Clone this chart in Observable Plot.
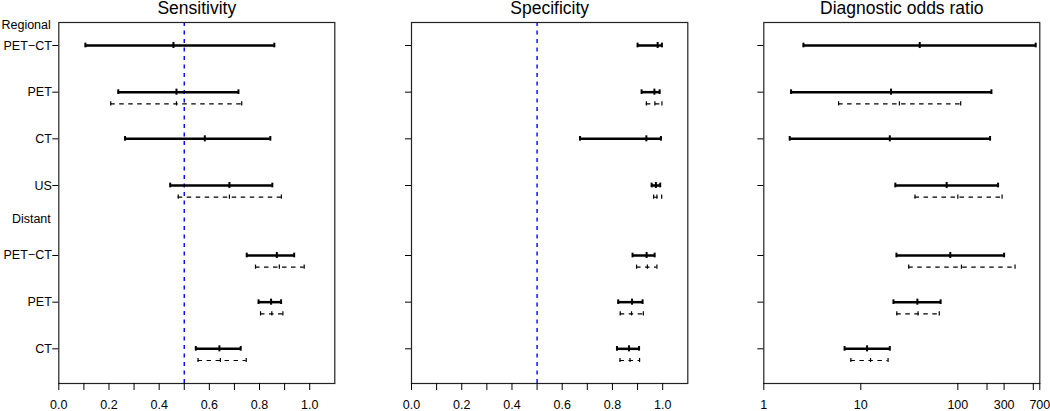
<!DOCTYPE html>
<html>
<head>
<meta charset="utf-8">
<script src="https://cdn.jsdelivr.net/npm/d3@7"></script>
<script src="https://cdn.jsdelivr.net/npm/@observablehq/plot@0.6"></script>
<style>
  html, body { margin: 0; padding: 0; background: #fff; }
  #wrap { display: flex; width: 1050px; height: 411px; }
  #wrap svg { overflow: visible; display: block; }
</style>
</head>
<body>
<div id="wrap"></div>
<script>
// ---------------- data ----------------
const groupNames = ["Regional", "Distant"];
const modality = ["PET−CT", "PET", "CT", "US", "PET−CT", "PET", "CT"];
const group = ["Regional", "Regional", "Regional", "Regional", "Distant", "Distant", "Distant"];

// Sensitivity (solid = main estimate, dashed = second estimate)
const sensEst = [0.457, 0.469, 0.582, 0.680, 0.869, 0.846, 0.640];
const sensLo  = [0.106, 0.237, 0.264, 0.444, 0.749, 0.796, 0.546];
const sensHi  = [0.859, 0.716, 0.843, 0.851, 0.938, 0.886, 0.725];
const sens2Est = [null, 0.469, null, 0.680, 0.879, 0.849, 0.644];
const sens2Lo  = [null, 0.207, null, 0.476, 0.784, 0.804, 0.555];
const sens2Hi  = [null, 0.729, null, 0.887, 0.978, 0.893, 0.747];

// Specificity
const specEst = [0.980, 0.967, 0.935, 0.973, 0.936, 0.878, 0.866];
const specLo  = [0.900, 0.916, 0.671, 0.956, 0.880, 0.823, 0.818];
const specHi  = [0.997, 0.988, 0.993, 0.990, 0.968, 0.920, 0.906];
const spec2Est = [null, 0.969, null, 0.977, 0.939, 0.876, 0.870];
const spec2Lo  = [null, 0.935, null, 0.964, 0.896, 0.831, 0.830];
const spec2Hi  = [null, 0.997, null, 0.996, 0.977, 0.923, 0.908];

// Diagnostic odds ratio
const dorEst = [40.5, 20.5, 19.9, 76.7, 83.6, 38.3, 11.6];
const dorLo  = [2.56, 1.91, 1.85, 22.7, 23.3, 21.7, 6.8];
const dorHi  = [635, 222, 215, 260, 300, 66.5, 19.9];
const dor2Est = [null, 25.0, null, 100, 109, 38.9, 12.6];
const dor2Lo  = [null, 5.9, null, 36.2, 31.2, 23.5, 7.9];
const dor2Hi  = [null, 107, null, 286, 389, 64.4, 19.1];

const propTicks = [0, 0.1, 0.2, 0.3, 0.4, 0.5, 0.6, 0.7, 0.8, 0.9, 1.0];
const propLabels = [0, 0.2, 0.4, 0.6, 0.8, 1.0];
const dorTicks = [1, 10, 100, 200, 300, 600, 700];
const dorLabels = [1, 10, 100, 300, 700];

// ---------------- layout ----------------
const FONT = "'Liberation Sans', Arial, Helvetica, sans-serif";
const TICK = 7, PAD = 9.5, FS = 12.5;
// row position: one row per item, distant group pushed down by half a row
const rowY = modality.map((m, i) => i + groupNames.indexOf(group[i]) * 0.5);
const headerY = {Regional: rowY[0] - 0.45, Distant: rowY[4] - 0.79};
const yDomain = [-0.493, 7.243];

function panel({title, est, lo, hi, est2, lo2, hi2, x, ticks, labels, fmt, ref, showLabels, ml, mr}) {
  const rows = modality.map((m, i) => ({y: rowY[i], est: est[i], lo: lo[i], hi: hi[i]}));
  const rows2 = modality.map((m, i) => ({y: rowY[i] + 0.25, est: est2[i], lo: lo2[i], hi: hi2[i]}))
    .filter(d => d.est != null);
  const caps = rows.flatMap(r => [r.lo, r.est, r.hi].map((v, k) => ({x: v, y1: r.y - (k === 1 ? 0.065 : 0.05), y2: r.y + (k === 1 ? 0.065 : 0.05)})));
  const caps2 = rows2.flatMap(r => [r.lo, r.est, r.hi].map(v => ({x: v, y1: r.y - 0.045, y2: r.y + 0.045})));
  const marks = [];
  if (ref != null) marks.push(Plot.ruleX([ref], {stroke: "#0000ff", strokeWidth: 1.4, strokeDasharray: "4,4.5"}));
  marks.push(
    Plot.ruleY(rows, {y: "y", x1: "lo", x2: "hi", stroke: "#000", strokeWidth: 2.5}),
    Plot.ruleX(caps, {x: "x", y1: "y1", y2: "y2", stroke: "#000", strokeWidth: 2}),
    Plot.ruleY(rows2, {y: "y", x1: "lo", x2: "hi", stroke: "#000", strokeWidth: 1.1, strokeDasharray: "4.5,4.5"}),
    Plot.ruleX(caps2, {x: "x", y1: "y1", y2: "y2", stroke: "#000", strokeWidth: 1.2}),
    Plot.frame({stroke: "#222", strokeWidth: 1.2}),
    Plot.axisY({ticks: rowY, tickSize: 6, tickPadding: 1, fontSize: FS, stroke: "#000",
      tickFormat: showLabels ? (d => modality[rowY.indexOf(d)]) : (() => "")}),
    Plot.text([title], {text: d => d, frameAnchor: "top", dy: -14, lineAnchor: "middle",
      fontSize: 17.5, fill: "#000"})
  );
  if (fmt) {
    marks.push(Plot.axisX({ticks, tickSize: TICK, tickPadding: PAD, tickFormat: fmt, stroke: "#000", fontSize: FS}));
  } else {
    // log axis: tick marks from the axis, labels drawn as text on the same scale
    marks.push(
      Plot.axisX({ticks, tickSize: TICK, tickPadding: PAD, tickFormat: () => "", stroke: "#000", fontSize: FS}),
      Plot.text(labels, {x: d => d, text: d => String(d), frameAnchor: "bottom", lineAnchor: "top",
        dy: TICK + PAD, fontSize: FS, fill: "#000"})
    );
  }
  if (showLabels) {
    marks.push(Plot.text(groupNames, {y: d => headerY[d], text: d => d, frameAnchor: "left",
      textAnchor: "end", dx: -8, fontSize: FS, fill: "#000"}));
  }
  return Plot.plot({
    width: 350, height: 411,
    marginTop: 22, marginBottom: 28, marginLeft: ml, marginRight: mr,
    style: {fontFamily: FONT, fontSize: FS + "px", color: "#000", background: "#fff", overflow: "visible"},
    x: {...x, ticks},
    y: {domain: yDomain, reverse: true},
    marks
  });
}

const propFmt = d => propLabels.some(v => Math.abs(v - d) < 1e-9) ? d.toFixed(1) : "";

const wrap = document.getElementById("wrap");
wrap.append(panel({title: "Sensitivity", est: sensEst, lo: sensLo, hi: sensHi,
  est2: sens2Est, lo2: sens2Lo, hi2: sens2Hi, x: {domain: [0, 1.1]}, ticks: propTicks, fmt: propFmt,
  ref: 0.5, showLabels: true, ml: 58.3, mr: 15.7}));
wrap.append(panel({title: "Specificity", est: specEst, lo: specLo, hi: specHi,
  est2: spec2Est, lo2: spec2Lo, hi2: spec2Hi, x: {domain: [0, 1.1]}, ticks: propTicks, fmt: propFmt,
  ref: 0.5, showLabels: false, ml: 61, mr: 12.7}));
wrap.append(panel({title: "Diagnostic odds ratio", est: dorEst, lo: dorLo, hi: dorHi,
  est2: dor2Est, lo2: dor2Lo, hi2: dor2Hi, x: {type: "log", domain: [1, 700]}, ticks: dorTicks,
  labels: dorLabels, fmt: null, ref: null, showLabels: false, ml: 63.3, mr: 10.7}));
</script>
</body>
</html>
